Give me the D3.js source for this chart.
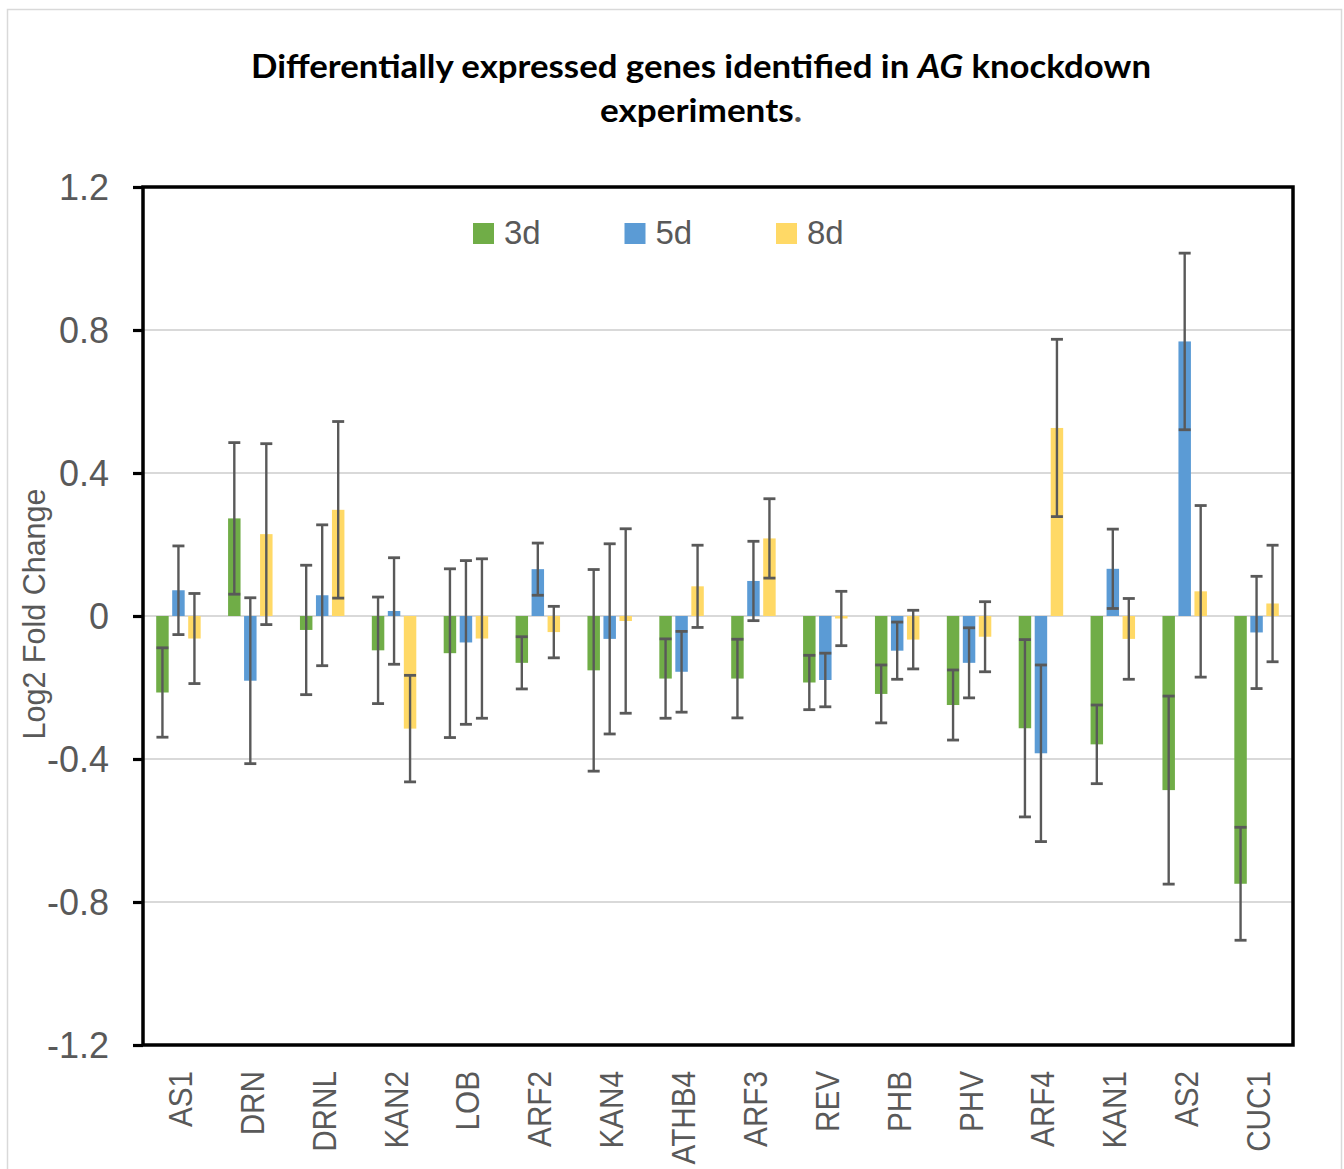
<!DOCTYPE html>
<html>
<head>
<meta charset="utf-8">
<script src="https://cdn.jsdelivr.net/npm/d3@7"></script>
<style>
  body { margin: 0; background: #fff; }
  svg { display: block; }
</style>
</head>
<body>
<div id="chart"></div>
<script>
// genes on the x axis
const genes = ['AS1','DRN','DRNL','KAN2','LOB','ARF2','KAN4','ATHB4','ARF3','REV','PHB','PHV','ARF4','KAN1','AS2','CUC1'];
const seriesNames = ['3d', '5d', '8d'];

// log2 fold change per time point
const fc3d = [-0.214, 0.273, -0.039, -0.096, -0.104, -0.131, -0.152, -0.175, -0.175, -0.186, -0.218, -0.249, -0.314, -0.359, -0.487, -0.749];
const fc5d = [0.072, -0.181, 0.058, 0.014, -0.074, 0.131, -0.064, -0.156, 0.098, -0.179, -0.097, -0.131, -0.384, 0.132, 0.768, -0.046];
const fc8d = [-0.063, 0.229, 0.297, -0.315, -0.063, -0.045, -0.014, 0.083, 0.217, -0.007, -0.066, -0.058, 0.526, -0.064, 0.069, 0.035];

// error bar half-lengths
const err3d = [0.125, 0.212, 0.181, 0.149, 0.236, 0.073, 0.282, 0.111, 0.110, 0.076, 0.081, 0.098, 0.248, 0.110, 0.263, 0.158];
const err5d = [0.124, 0.232, 0.197, 0.149, 0.229, 0.073, 0.266, 0.113, 0.111, 0.075, 0.080, 0.098, 0.247, 0.111, 0.247, 0.157];
const err8d = [0.126, 0.253, 0.247, 0.149, 0.223, 0.072, 0.258, 0.115, 0.111, 0.076, 0.082, 0.098, 0.248, 0.113, 0.240, 0.163];

const yTicks = [-1.2, -0.8, -0.4, 0, 0.4, 0.8, 1.2];
const yTickLabels = ['-1.2', '-0.8', '-0.4', '0', '0.4', '0.8', '1.2'];

const colours = { '3d': '#70AD47', '5d': '#5B9BD5', '8d': '#FFD966' };

const config = {
	width: 1344,
	height: 1169,
	left: 143,
	right: 1293,
	top: 187,
	bottom: 1045
};

// build rows for drawing
const values = { '3d': fc3d, '5d': fc5d, '8d': fc8d };
const errors = { '3d': err3d, '5d': err5d, '8d': err8d };
const rows = [];
genes.forEach((g, i) => {
	seriesNames.forEach(s => {
		rows.push({ gene: g, series: s, value: values[s][i], err: errors[s][i] });
	});
});

const svg = d3.select('#chart')
	.append('svg')
	.attr('width', config.width)
	.attr('height', config.height);

// outer chart border
svg.append('rect')
	.attr('x', 7.5).attr('y', 9.5)
	.attr('width', 1334).attr('height', 1170)
	.attr('fill', 'none')
	.attr('stroke', '#d9d9d9')
	.attr('stroke-width', 1.5);

// scales
const x0 = d3.scaleBand()
	.domain(genes)
	.range([config.left, config.right])
	.paddingInner(0)
	.paddingOuter(0);

const x1 = d3.scaleBand()
	.domain(seriesNames)
	.range([-24.5, 23.5])
	.paddingInner(0.22)
	.paddingOuter(0.11);

const y = d3.scaleLinear()
	.domain([-1.2, 1.2])
	.range([config.bottom, config.top]);

// gridlines
svg.append('g')
	.selectAll('line')
	.data(yTicks.filter(d => d !== -1.2 && d !== 1.2))
	.enter()
	.append('line')
		.attr('x1', config.left)
		.attr('x2', config.right)
		.attr('y1', d => y(d))
		.attr('y2', d => y(d))
		.attr('stroke', '#d9d9d9')
		.attr('stroke-width', 2);

// bars
svg.append('g')
	.selectAll('rect')
	.data(rows)
	.enter()
	.append('rect')
		.attr('x', d => x0(d.gene) + x0.bandwidth() / 2 + x1(d.series))
		.attr('width', x1.bandwidth())
		.attr('y', d => y(Math.max(0, d.value)))
		.attr('height', d => Math.abs(y(d.value) - y(0)))
		.attr('fill', d => colours[d.series]);

// error bars
const errG = svg.append('g')
	.attr('stroke', '#595959')
	.attr('stroke-width', 2.4);

const errBar = errG.selectAll('g')
	.data(rows)
	.enter()
	.append('g')
	.attr('transform', d => `translate(${x0(d.gene) + x0.bandwidth() / 2 + x1(d.series) + x1.bandwidth() / 2},0)`);

errBar.append('line')
	.attr('y1', d => y(d.value + d.err))
	.attr('y2', d => y(d.value - d.err));
errBar.append('line')
	.attr('x1', -6).attr('x2', 6)
	.attr('y1', d => y(d.value + d.err))
	.attr('y2', d => y(d.value + d.err))
	.attr('stroke-width', 2.8);
errBar.append('line')
	.attr('x1', -6).attr('x2', 6)
	.attr('y1', d => y(d.value - d.err))
	.attr('y2', d => y(d.value - d.err))
	.attr('stroke-width', 2.8);

// plot frame
svg.append('rect')
	.attr('x', config.left).attr('y', config.top)
	.attr('width', config.right - config.left)
	.attr('height', config.bottom - config.top)
	.attr('fill', 'none')
	.attr('stroke', '#000')
	.attr('stroke-width', 3.5);

// y axis
const yAxis = svg.append('g')
	.attr('transform', `translate(${config.left},0)`)
	.call(d3.axisLeft(y)
		.tickValues(yTicks)
		.tickFormat((d, i) => yTickLabels[i])
		.tickSize(10)
		.tickPadding(24));

yAxis.select('.domain').remove();
yAxis.selectAll('.tick line')
	.attr('stroke', '#000')
	.attr('stroke-width', 3.2);
yAxis.selectAll('.tick text')
	.attr('fill', '#595959')
	.attr('font-family', 'Liberation Sans, Arial, sans-serif')
	.attr('font-size', 36)
	.attr('dy', '0.36em');

// x axis labels
const xAxis = svg.append('g')
	.attr('transform', `translate(0,${config.bottom})`)
	.call(d3.axisBottom(x0).tickSize(0).tickPadding(0));

xAxis.select('.domain').remove();
xAxis.selectAll('.tick text')
	.attr('fill', '#595959')
	.attr('font-family', 'Liberation Sans, Arial, sans-serif')
	.attr('font-size', 33)
	.attr('text-anchor', 'end')
	.attr('y', 0)
	.attr('dy', 0)
	.attr('transform', 'translate(13,26) rotate(-90) scale(0.9,1)');

// y axis title
svg.append('text')
	.attr('transform', 'translate(45,614) rotate(-90)')
	.attr('text-anchor', 'middle')
	.attr('fill', '#595959')
	.attr('font-family', 'Liberation Sans, Arial, sans-serif')
	.attr('font-size', 30.5)
	.text('Log2 Fold Change');

// title
const title = svg.append('g')
	.attr('font-family', 'Lato, "Liberation Sans", sans-serif')
	.attr('font-weight', 'bold')
	.attr('font-size', 32)
	.attr('fill', '#000');

const line1 = title.append('text')
	.attr('x', 251)
	.attr('y', 78)
	.attr('textLength', 900)
	.attr('lengthAdjust', 'spacingAndGlyphs');
line1.append('tspan').text('Differentially expressed genes identified in ');
line1.append('tspan').attr('font-style', 'italic').text('AG');
line1.append('tspan').text(' knockdown');

const line2 = title.append('text')
	.attr('x', 600)
	.attr('y', 122)
	.attr('textLength', 202)
	.attr('lengthAdjust', 'spacingAndGlyphs');
line2.append('tspan').text('experiments');
line2.append('tspan').attr('fill', '#595959').text('.');

// legend
const legend = svg.append('g')
	.selectAll('g')
	.data(seriesNames)
	.enter()
	.append('g')
	.attr('transform', (d, i) => `translate(${473 + i * 151.5},223)`);

legend.append('rect')
	.attr('width', 21)
	.attr('height', 21)
	.attr('fill', d => colours[d]);

legend.append('text')
	.attr('x', 31)
	.attr('y', 21)
	.attr('fill', '#595959')
	.attr('font-family', 'Liberation Sans, Arial, sans-serif')
	.attr('font-size', 33)
	.text(d => d);
</script>
</body>
</html>
